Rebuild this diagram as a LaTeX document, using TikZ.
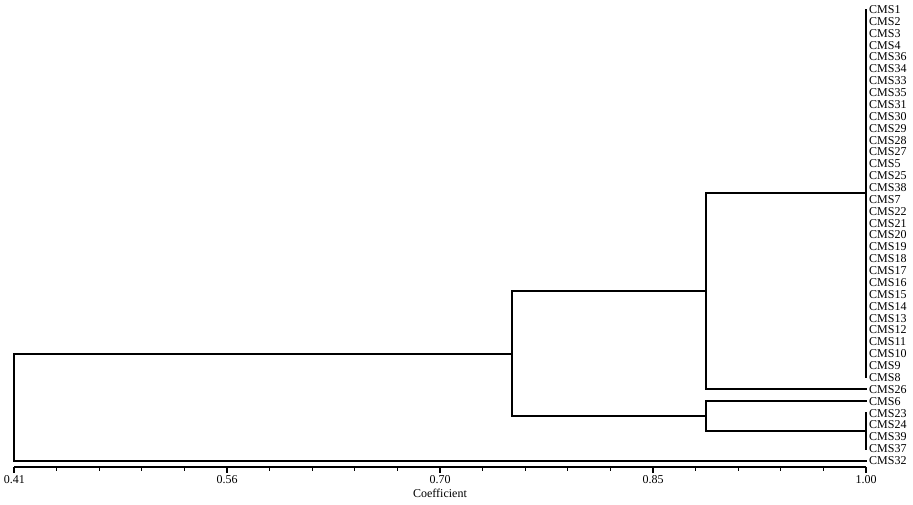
\documentclass[tikz,border=0pt]{standalone}
\usepackage{fontspec}
\setmainfont{Liberation Serif}
\usetikzlibrary{calc}
\begin{document}
\begin{tikzpicture}[x=1pt,y=-1pt,
  branch/.style={line width=2pt,line join=miter,line cap=rect,draw=black},
  leaf/.style={anchor=west,inner sep=0pt,font=\fontsize{12}{12}\selectfont,text=black},
  ticklabel/.style={anchor=north,inner sep=0pt,font=\fontsize{12}{12}\selectfont,text=black},
  axisline/.style={line width=2pt,draw=black},
  minortick/.style={line width=1.3pt,draw=black},
  majortick/.style={line width=1.8pt,draw=black}]
\useasboundingbox (0,0) rectangle (913,504);
% leaves
\foreach \n [count=\i from 0] in {1,2,3,4,36,34,33,35,31,30,29,28,27,5,25,38,7,22,21,20,19,18,17,16,15,14,13,12,11,10,9,8,26,6,23,24,39,37,32} {
  \node[leaf] (CMS\n) at (869,{9.5+11.87*\i}) {CMS\n};
  \coordinate (e\n) at (866,{9.5+11.87*\i});
}
\coordinate (x2) at (706,0);
\coordinate (x3) at (512,0);
\coordinate (x4) at (14,0);
% cluster A (CMS1..CMS8)
\draw[branch] (e1) -- (e8);
\coordinate (mA) at ($(e1)!0.5!(e8)$);
\coordinate (nA) at (mA -| x2);
\coordinate (n26) at (e26 -| x2);
\draw[branch] (mA) -- (nA) -- (n26) -- (e26);
\coordinate (mC) at ($(nA)!0.5!(n26)$);
% cluster B
\draw[branch] (e23) -- (e37);
\coordinate (mB) at ($(e23)!0.5!(e37)$);
\coordinate (nB) at (mB -| x2);
\coordinate (n6) at (e6 -| x2);
\draw[branch] (mB) -- (nB) -- (n6) -- (e6);
\coordinate (mD) at ($(n6)!0.5!(nB)$);
% join C and D
\coordinate (nC) at (mC -| x3);
\coordinate (nD) at (mD -| x3);
\draw[branch] (mC) -- (nC) -- (nD) -- (mD);
\coordinate (mE) at ($(nC)!0.5!(nD)$);
% root
\coordinate (nE) at (mE -| x4);
\coordinate (n32) at (e32 -| x4);
\draw[branch] (mE) -- (nE) -- (n32) -- (e32);
% axis
\coordinate (a0) at (14,466.7);
\coordinate (a1) at (866,466.7);
\draw[axisline] (a0) -- (a1);
\foreach \k in {0,...,20} {
  \pgfmathsetmacro{\xx}{14+42.6*\k}
  \pgfmathtruncatemacro{\r}{mod(\k,5)}
  \ifnum\r=0
    \draw[majortick] (\xx,466.7) -- (\xx,472.7);
  \else
    \draw[minortick] (\xx,466.7) -- (\xx,470.7);
  \fi
}
\node[ticklabel] (t0) at (14.5,475) {0.41};
\node[ticklabel] (t1) at (227,475) {0.56};
\node[ticklabel] (t2) at (440,475) {0.70};
\node[ticklabel] (t3) at (653,475) {0.85};
\node[ticklabel] (t4) at (866,475) {1.00};
\node[ticklabel] (coef) at (440,488.5) {Coefficient};
\end{tikzpicture}
\end{document}
